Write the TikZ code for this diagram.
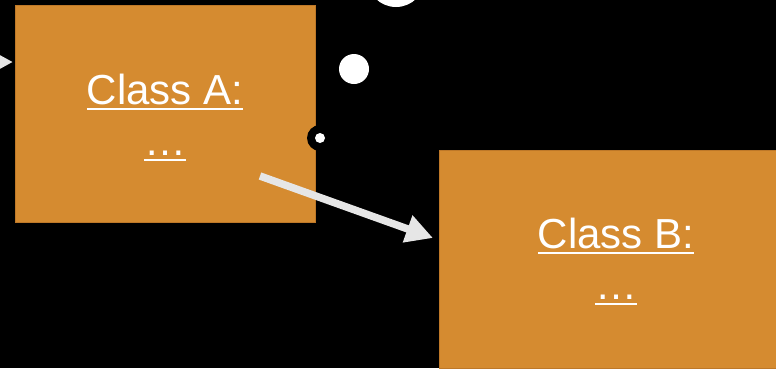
\documentclass[tikz,border=0pt]{standalone}
\usepackage{fontspec}
\setmainfont{Liberation Sans}
\usetikzlibrary{arrows.meta}
\definecolor{boxorange}{RGB}{213,139,48}
\definecolor{boxedge}{RGB}{190,120,40}
\definecolor{arrowgrey}{RGB}{230,230,230}
\newcommand\ulx[1]{\setbox0=\hbox{#1}\rlap{\rule[-5.5pt]{\wd0}{1.6pt}}\box0}
\tikzset{
  classbox/.style={draw=boxedge, line width=0.6pt, fill=boxorange, rectangle, inner sep=0pt},
  lbl/.style={text=white, font=\fontsize{42}{50}\selectfont, inner sep=0pt, anchor=base},
  conn/.style={draw=arrowgrey, line width=7.5pt, -{Triangle[length=27pt,width=27pt]}},
  dot/.style={circle, fill=white, inner sep=0pt},
}
\begin{document}
\begin{tikzpicture}[x=1pt,y=-1pt]
\useasboundingbox (0,0) rectangle (776,368);
\fill[black] (0,0) rectangle (776,368);
\clip (0,0) rectangle (776,368);
% boxes
\node[classbox, minimum width=300pt, minimum height=217pt] (A) at (165,113.5) {};
\node[classbox, minimum width=354pt, minimum height=218pt] (B) at (616,259) {};
% labels
\node[lbl] (ta1) at (165,104) {\ulx{Class A:}};
\node[lbl] (ta2) at (165,155) {\ulx{…}};
\node[lbl] (tb1) at (616,248) {\ulx{Class B:}};
\node[lbl] (tb2) at (616,299) {\ulx{…}};
% circles
\node[dot, minimum size=58pt] (c1) at (396,-22) {};
\node[dot, minimum size=30pt] (c2) at (354,69) {};
\node[circle, fill=black, inner sep=0pt, minimum size=26pt] (c3) at (320,138) {};
\node[dot, minimum size=10pt] (c4) at (320,138) {};
% connectors
\coordinate (in0) at (-40,62);
\coordinate (in1) at (13,62);
\draw[conn] (in0) -- (in1);
\coordinate (a1) at (260,176);
\coordinate (b1) at (433,238);
\draw[conn] (a1) -- (b1);
\end{tikzpicture}
\end{document}
